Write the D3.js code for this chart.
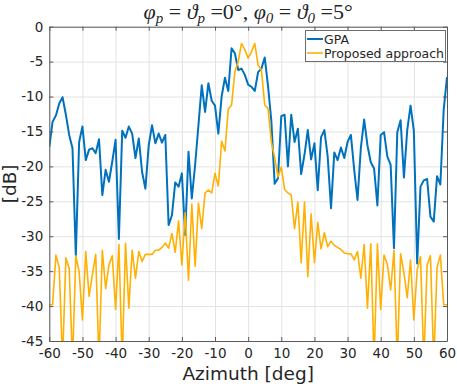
<!DOCTYPE html>
<html>
<head>
    <meta charset="utf-8">
    <title>GPA vs proposed approach</title>
    <script type="text/javascript" src="https://d3js.org/d3.v7.min.js"></script>
</head>
<body style="margin:0;background:#fff;">

<style>
text { font-family: "DejaVu Sans", sans-serif; fill: #262626; }
.grid line { stroke: #e3e3e3; stroke-width: 1; }
.grid path { display: none; }
.axis path, .axis line { stroke: #5a5a5a; stroke-width: 1; }
.axis text { font-size: 13.5px; fill: #262626; }
.gpa { fill: none; stroke: #0072BD; stroke-width: 2; stroke-linejoin: round; }
.prop { fill: none; stroke: #FFB000; stroke-width: 1.6; stroke-linejoin: round; }
</style>

<script type="text/javascript">
    // azimuth sample points, one per degree
    var azimuth = d3.range(-60, 61);

    var gpa = [
        -17.2, -13.6, -12.7, -11.0, -10.1, -12.6, -15.5, -17.4, -32.8, -16.5,
        -14.3, -19.1, -17.6, -17.4, -18.1, -16.1, -24.1, -20.5, -22.2, -19.3,
        -16.2, -30.4, -14.9, -15.9, -14.3, -15.3, -18.8, -16.0, -20.8, -23.2,
        -17.0, -14.1, -16.7, -15.3, -16.6, -15.5, -28.4, -27.0, -22.3, -22.9,
        -21.0, -29.8, -17.9, -24.6, -19.8, -14.1, -8.4, -12.2, -8.1, -10.6,
        -11.3, -15.3, -10.0, -7.3, -9.2, -3.1, -3.8, -6.2, -6.0, -6.9,
        -8.3, -8.6, -9.2, -6.5, -6.0, -4.4, -8.5, -13.5, -22.5, -21.7,
        -12.8, -12.6, -20.0, -12.6, -16.5, -14.6, -21.1, -18.3, -14.8, -19.0,
        -16.7, -23.4, -15.8, -14.8, -18.6, -26.0, -18.0, -19.1, -17.3, -18.8,
        -16.5, -15.5, -20.5, -24.8, -17.4, -13.3, -17.0, -19.4, -20.3, -25.6,
        -15.5, -15.1, -18.6, -19.8, -31.7, -15.1, -13.4, -21.6, -14.8, -11.3,
        -14.9, -33.9, -22.9, -22.0, -21.8, -27.2, -27.9, -21.4, -22.6, -11.9,
        -7.2
    ];

    var proposed = [
        -39.8, -39.8, -32.7, -34.5, -48.0, -33.1, -34.6, -48.0, -32.8, -35.1,
        -42.0, -32.2, -38.6, -35.5, -32.6, -48.0, -32.0, -37.5, -34.1, -32.8,
        -40.5, -31.2, -48.0, -31.0, -40.3, -32.0, -36.0, -32.2, -33.6, -32.6,
        -32.6, -32.6, -32.0, -32.0, -31.6, -31.0, -31.7, -29.6, -32.3, -27.8,
        -34.1, -26.6, -36.3, -25.4, -34.3, -25.3, -28.9, -23.8, -23.4, -23.8,
        -21.0, -22.8, -16.4, -17.8, -11.8, -11.2, -6.4, -5.0, -2.4, -3.3,
        -4.5, -3.6, -2.4, -5.5, -6.2, -11.2, -11.7, -16.5, -18.8, -21.5,
        -20.1, -23.3, -23.8, -24.1, -28.9, -25.1, -33.8, -25.1, -35.8, -26.8,
        -33.8, -28.0, -31.8, -29.5, -31.5, -30.7, -31.3, -31.6, -31.9, -32.4,
        -32.5, -32.5, -33.4, -32.2, -36.0, -31.2, -40.3, -31.1, -48.0, -31.1,
        -40.5, -32.7, -34.0, -37.7, -32.0, -48.0, -32.5, -35.2, -38.8, -33.4,
        -42.0, -34.8, -32.9, -48.0, -34.1, -32.8, -48.0, -34.5, -32.7, -39.8,
        -39.8
    ];

    var seriesNames = ["GPA", "Proposed approach"];
    var xTicks = d3.range(-60, 61, 10);
    var yTicks = d3.range(-45, 1, 5);

    var width = 457,
        height = 386,
        plotLeft = 49.3,
        plotRight = 447,
        plotTop = 26.7,
        plotBottom = 341;

    var x = d3.scaleLinear().domain([-60, 60]).range([plotLeft, plotRight]);
    var y = d3.scaleLinear().domain([-45, 0]).range([plotBottom, plotTop]);

    var svg = d3.select("body").append("svg")
        .attr("width", width)
        .attr("height", height);

    svg.append("defs").append("clipPath")
        .attr("id", "plot-clip")
        .append("rect")
        .attr("x", plotLeft).attr("y", plotTop)
        .attr("width", plotRight - plotLeft).attr("height", plotBottom - plotTop);

    // grid
    svg.append("g")
        .attr("class", "grid")
        .attr("transform", "translate(0," + plotBottom + ")")
        .call(d3.axisBottom(x).tickValues(xTicks).tickSize(-(plotBottom - plotTop)).tickFormat(""));

    svg.append("g")
        .attr("class", "grid")
        .attr("transform", "translate(" + plotLeft + ",0)")
        .call(d3.axisLeft(y).tickValues(yTicks).tickSize(-(plotRight - plotLeft)).tickFormat(""));

    // lines
    var line = d3.line()
        .x(function(d, i){ return x(azimuth[i]); })
        .y(function(d){ return y(d); });

    var plot = svg.append("g").attr("clip-path", "url(#plot-clip)");

    plot.append("path").attr("class", "gpa").attr("d", line(gpa));
    plot.append("path").attr("class", "prop").attr("d", line(proposed));

    // axes, ticks pointing inward on all four sides
    svg.append("g")
        .attr("class", "axis")
        .attr("transform", "translate(0," + plotBottom + ")")
        .call(d3.axisBottom(x).tickValues(xTicks).tickSizeInner(-4).tickSizeOuter(0).tickPadding(7));

    svg.append("g")
        .attr("class", "axis")
        .attr("transform", "translate(0," + plotTop + ")")
        .call(d3.axisTop(x).tickValues(xTicks).tickSizeInner(-4).tickSizeOuter(0).tickFormat(""));

    svg.append("g")
        .attr("class", "axis")
        .attr("transform", "translate(" + plotLeft + ",0)")
        .call(d3.axisLeft(y).tickValues(yTicks).tickSizeInner(-4).tickSizeOuter(0).tickPadding(6));

    svg.append("g")
        .attr("class", "axis")
        .attr("transform", "translate(" + plotRight + ",0)")
        .call(d3.axisRight(y).tickValues(yTicks).tickSizeInner(-4).tickSizeOuter(0).tickFormat(""));

    // plain hyphen minus like the original
    svg.selectAll(".axis text").each(function(){
        var t = d3.select(this);
        t.text(t.text().replace("\u2212", "-"));
    });

    // axis labels
    svg.append("text")
        .attr("x", (plotLeft + plotRight) / 2)
        .attr("y", 380)
        .attr("text-anchor", "middle")
        .style("font-size", "18.5px")
        .text("Azimuth [deg]");

    svg.append("text")
        .attr("transform", "translate(16," + (plotTop + plotBottom) / 2 + ") rotate(-90)")
        .attr("text-anchor", "middle")
        .style("font-size", "18.5px")
        .text("[dB]");

    // title with LaTeX-like symbols
    var title = svg.append("text")
        .attr("x", (plotLeft + plotRight) / 2)
        .attr("y", 19)
        .attr("text-anchor", "middle")
        .style("font-family", "'Liberation Serif', 'DejaVu Serif', serif")
        .style("font-size", "22px");

    var parts = [
        ["\u03C6", "p", " = "], ["\u03D1", "p", " =0\u00B0, "],
        ["\u03C6", "0", " = "], ["\u03D1", "0", " =5\u00B0"]
    ];
    parts.forEach(function(p){
        title.append("tspan").style("font-style", "italic").text(p[0]);
        title.append("tspan").attr("dy", 4).style("font-size", "15px").style("font-style", "italic").text(p[1]);
        title.append("tspan").attr("dy", -4).text(p[2]);
    });

    // legend
    var legend = svg.append("g");
    legend.append("rect")
        .attr("x", 305.5).attr("y", 30.5)
        .attr("width", 140).attr("height", 31)
        .attr("fill", "#fff")
        .attr("stroke", "#6e6e6e")
        .attr("stroke-width", 1);

    seriesNames.forEach(function(name, i){
        var yy = 39 + i * 14;
        legend.append("line")
            .attr("x1", 307).attr("x2", 323)
            .attr("y1", yy).attr("y2", yy)
            .attr("class", i === 0 ? "gpa" : "prop")
            .style("stroke-width", i === 0 ? 2 : 1.6);
        legend.append("text")
            .attr("x", 324).attr("y", yy + 4.5)
            .style("font-size", "12.5px")
            .text(name);
    });
</script>

</body>
</html>
